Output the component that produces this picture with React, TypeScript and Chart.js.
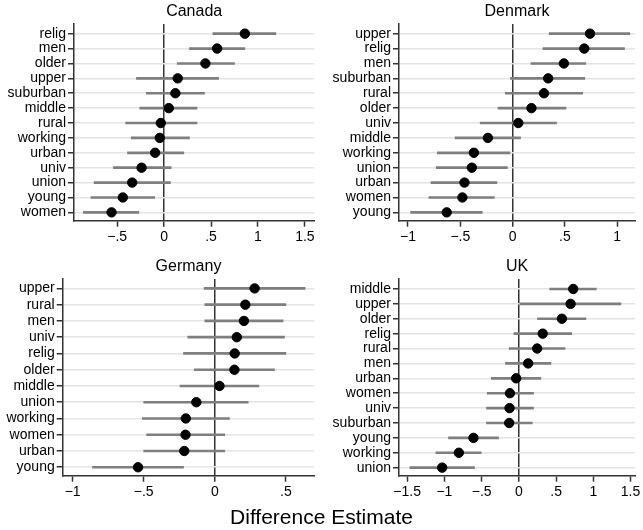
import React, { useEffect, useRef } from "react";
import { Chart, registerables } from "chart.js";
Chart.register(...registerables);

// ---------- DATA ----------
const canadaLabels = ["relig", "men", "older", "upper", "suburban", "middle", "rural", "working", "urban", "univ", "union", "young", "women"];
const canadaEst = [0.86, 0.565, 0.44, 0.145, 0.12, 0.05, -0.035, -0.046, -0.096, -0.24, -0.34, -0.44, -0.56];
const canadaLo = [0.52, 0.27, 0.14, -0.295, -0.19, -0.26, -0.41, -0.35, -0.39, -0.54, -0.745, -0.78, -0.86];
const canadaHi = [1.19, 0.86, 0.75, 0.58, 0.43, 0.35, 0.35, 0.27, 0.21, 0.075, 0.067, -0.1, -0.27];
const canadaTicks = [-0.5, 0, 0.5, 1, 1.5];

const denmarkLabels = ["upper", "relig", "men", "suburban", "rural", "older", "univ", "middle", "working", "union", "urban", "women", "young"];
const denmarkEst = [0.74, 0.685, 0.49, 0.34, 0.3, 0.18, 0.054, -0.236, -0.37, -0.39, -0.46, -0.48, -0.63];
const denmarkLo = [0.35, 0.29, 0.175, -0.02, -0.07, -0.14, -0.31, -0.55, -0.72, -0.73, -0.78, -0.8, -0.975];
const denmarkHi = [1.12, 1.07, 0.7, 0.69, 0.67, 0.51, 0.42, 0.076, -0.025, -0.05, -0.15, -0.175, -0.29];
const denmarkTicks = [-1, -0.5, 0, 0.5, 1];

const germanyLabels = ["upper", "rural", "men", "univ", "relig", "older", "middle", "union", "working", "women", "urban", "young"];
const germanyEst = [0.28, 0.215, 0.205, 0.155, 0.14, 0.138, 0.033, -0.13, -0.204, -0.206, -0.215, -0.54];
const germanyLo = [-0.075, -0.07, -0.07, -0.19, -0.22, -0.145, -0.245, -0.5, -0.51, -0.48, -0.5, -0.86];
const germanyHi = [0.635, 0.5, 0.48, 0.49, 0.5, 0.42, 0.31, 0.235, 0.103, 0.07, 0.07, -0.22];
const germanyTicks = [-1, -0.5, 0, 0.5];

const ukLabels = ["middle", "upper", "older", "relig", "rural", "men", "urban", "women", "univ", "suburban", "young", "working", "union"];
const ukEst = [0.73, 0.695, 0.578, 0.32, 0.246, 0.125, -0.036, -0.12, -0.125, -0.13, -0.61, -0.806, -1.03];
const ukLo = [0.415, 0.013, 0.25, -0.067, -0.13, -0.18, -0.37, -0.425, -0.435, -0.435, -0.945, -1.115, -1.464];
const ukHi = [1.04, 1.37, 0.9, 0.71, 0.62, 0.43, 0.295, 0.197, 0.197, 0.18, -0.273, -0.506, -0.596];
const ukTicks = [-1.5, -1, -0.5, 0, 0.5, 1, 1.5];

const xAxisTitle = "Difference Estimate";

// ---------- RENDERING ----------
const FONT = "'Liberation Sans', Arial, Helvetica, sans-serif";

function fmt(v: number): string {
  if (v === 0) return "0";
  const neg = v < 0;
  let s = Math.abs(v).toString();
  if (s.startsWith("0.")) s = s.slice(1);
  return (neg ? "\u2212" : "") + s;
}

type PanelProps = {
  title: string;
  labels: string[];
  est: number[];
  lo: number[];
  hi: number[];
  ticks: number[];
  xMin: number;
  xMax: number;
  left: number;
  top: number;
  width: number;
  height: number;
  axisWidth: number;
  padRight: number;
  padTop: number;
  padBottom: number;
};

function Panel(p: PanelProps) {
  const ref = useRef<HTMLCanvasElement | null>(null);
  useEffect(() => {
    if (!ref.current) return;
    const n = p.labels.length;
    const chart = new Chart(ref.current, {
      type: "bar",
      data: {
        datasets: [
          {
            type: "scatter",
            data: p.est.map((v, i) => ({ x: v, y: i })),
            backgroundColor: "#000",
            borderColor: "#000",
            pointRadius: 4.7,
            pointHoverRadius: 4.7,
            showLine: false,
            order: 0,
          } as any,
          {
            type: "bar",
            data: p.lo.map((v, i) => ({ x: [v, p.hi[i]], y: i })),
            backgroundColor: "#7f7f7f",
            borderWidth: 0,
            barThickness: 2,
            order: 1,
          } as any,
        ],
      },
      options: {
        indexAxis: "y",
        animation: false,
        responsive: false,
        maintainAspectRatio: false,
        layout: { padding: { left: 0, right: p.padRight, top: 0, bottom: 0 } },
        plugins: {
          legend: { display: false },
          tooltip: { enabled: false },
          title: {
            display: true,
            text: p.title,
            fullSize: false,
            color: "#000",
            font: { family: FONT, size: 16, weight: "normal" },
            padding: { top: 2.4, bottom: 2.4 },
          },
        },
        scales: {
          x: {
            type: "linear",
            min: p.xMin,
            max: p.xMax,
            offset: false,
            afterBuildTicks: (scale: any) => {
              scale.ticks = p.ticks.map((v) => ({ value: v }));
            },
            afterFit: (scale: any) => {
              scale.height = 29.3;
              scale.paddingLeft = 0;
              scale.paddingRight = 0;
            },
            ticks: {
              color: "#000",
              font: { family: FONT, size: 14 },
              padding: 2,
              maxRotation: 0,
              autoSkip: false,
              callback: (v: any) => fmt(Number(v)),
            },
            grid: {
              offset: false,
              drawOnChartArea: true,
              color: (ctx: any) => (ctx.tick && ctx.tick.value === 0 ? "#333" : "rgba(0,0,0,0)"),
              lineWidth: (ctx: any) => (ctx.tick && ctx.tick.value === 0 ? 1.5 : 1),
              tickColor: "#333",
              tickLength: 6,
              tickWidth: 1.5,
            },
            border: { color: "#333", width: 1.5 },
          },
          y: {
            type: "linear",
            reverse: true,
            offset: false,
            min: -p.padTop,
            max: n - 1 + p.padBottom,
            afterBuildTicks: (scale: any) => {
              scale.ticks = p.labels.map((_, i) => ({ value: i }));
            },
            afterFit: (scale: any) => {
              scale.width = p.axisWidth;
              scale.paddingTop = 0;
              scale.paddingBottom = 0;
            },
            ticks: {
              color: "#000",
              font: { family: FONT, size: 14 },
              padding: 2,
              autoSkip: false,
              callback: (v: any) => p.labels[Number(v)] ?? "",
            },
            grid: {
              offset: false,
              color: "#e4e4e4",
              lineWidth: 1.5,
              tickColor: "#333",
              tickLength: 6,
              tickWidth: 1.5,
            },
            border: { color: "#333", width: 1.5 },
          },
        },
      } as any,
    });
    return () => chart.destroy();
  }, []);
  return (
    <canvas
      ref={ref}
      width={p.width}
      height={p.height}
      style={{ position: "absolute", left: p.left, top: p.top, width: p.width, height: p.height }}
    />
  );
}

export default function App() {
  return (
    <div style={{ position: "absolute", left: 0, top: 0, width: 643, height: 530, background: "#fff" }}>
      <Panel title="Canada" labels={canadaLabels} est={canadaEst} lo={canadaLo} hi={canadaHi} ticks={canadaTicks}
        xMin={-0.96} xMax={1.6} left={0} top={0} width={320} height={250} axisWidth={74} padRight={5} padTop={0.65} padBottom={0.56} />
      <Panel title="Denmark" labels={denmarkLabels} est={denmarkEst} lo={denmarkLo} hi={denmarkHi} ticks={denmarkTicks}
        xMin={-1.086} xMax={1.17} left={320} top={0} width={323} height={250} axisWidth={79} padRight={8} padTop={0.65} padBottom={0.56} />
      <Panel title="Germany" labels={germanyLabels} est={germanyEst} lo={germanyLo} hi={germanyHi} ticks={germanyTicks}
        xMin={-1.07} xMax={0.7} left={0} top={255} width={320} height={250} axisWidth={62.7} padRight={5} padTop={0.58} padBottom={0.52} />
      <Panel title="UK" labels={ukLabels} est={ukEst} lo={ukLo} hi={ukHi} ticks={ukTicks}
        xMin={-1.61} xMax={1.56} left={320} top={255} width={323} height={250} axisWidth={79} padRight={8} padTop={0.67} padBottom={0.54} />
      <div style={{ position: "absolute", left: 0, width: 643, top: 504, textAlign: "center", fontFamily: FONT, fontSize: 21, lineHeight: "26px", color: "#000" }}>
        {xAxisTitle}
      </div>
    </div>
  );
}
